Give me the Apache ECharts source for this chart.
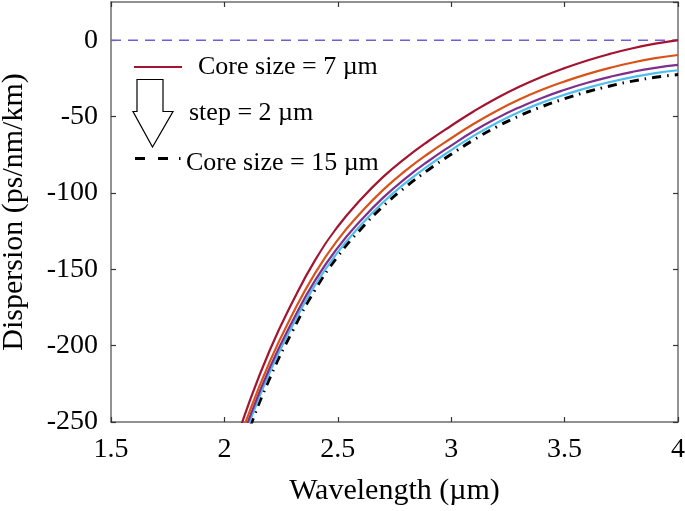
<!DOCTYPE html>
<html>
<head>
<meta charset="utf-8">
<script src="https://cdn.jsdelivr.net/npm/echarts@6/dist/echarts.min.js"></script>
<style>html,body{margin:0;padding:0;background:#fff}#c{width:685px;height:511px}</style>
</head>
<body>
<div id="c"></div>
<script>
// Wavelength samples (µm)
const wavelength = [2.05, 2.1, 2.2, 2.3, 2.4, 2.5, 2.6, 2.7, 2.8, 2.9, 3.0, 3.1, 3.2, 3.3, 3.4, 3.5, 3.6, 3.7, 3.8, 3.9, 4.0];
// Dispersion (ps/nm/km) per core size
const core7  = [-264, -241, -203, -171.5, -144, -122, -104.5, -89.5, -77, -66, -56, -46.5, -38, -30.5, -24, -18.3, -13.3, -9, -5.3, -2.3, 0];
const core9  = [-270, -247.5, -210.5, -179.5, -152.5, -130.7, -113.2, -98, -85.3, -74.2, -64.2, -54.7, -46.3, -38.9, -32.5, -27, -22.2, -18.1, -14.6, -11.8, -9.7];
const core11 = [-274, -251.5, -214.5, -184, -157.3, -135.8, -118.3, -103.1, -90.3, -79.1, -69, -59.5, -51.2, -44, -37.8, -32.5, -27.9, -24, -20.7, -18.1, -16.2];
const core13 = [-277, -254.5, -217.5, -187, -160.3, -138.8, -121.3, -106.1, -93.3, -82.1, -72, -62.5, -54.2, -47, -40.9, -35.7, -31.2, -27.4, -24.2, -21.6, -19.7];
const core15 = [-281, -258.5, -221.3, -190.5, -163.4, -141.5, -123.9, -108.7, -96, -84.8, -74.7, -65.2, -56.8, -49.6, -43.5, -38.3, -33.8, -30, -26.8, -24.3, -22.5];
const zeroLineX = [1.5, 4];
const zeroLineY = [0, 0];
const seriesNames = ['Core size = 7 µm', 'Core size = 9 µm', 'Core size = 11 µm', 'Core size = 13 µm', 'Core size = 15 µm'];
const legendTexts = ['Core size = 7 µm', 'step = 2 µm', 'Core size = 15 µm'];

const FONT = '"Liberation Serif", "Times New Roman", serif';
const AX = '#6e6e6e';
const pair = (xs, ys) => xs.map((x, i) => [x, ys[i]]);

const chart = echarts.init(document.getElementById('c'));
const baseAxis = {
  type: 'value',
  axisLine: { show: true, onZero: false, lineStyle: { color: AX, width: 1.5 } },
  axisTick: { show: true, inside: true, length: 5, lineStyle: { color: '#333', width: 1.2 } },
  splitLine: { show: false }
};
const lineSeries = (name, data, color, extra) => Object.assign({
  name, type: 'line', data, smooth: 0.5, showSymbol: false, symbol: 'none', clip: true,
  xAxisIndex: 0, yAxisIndex: 0,
  lineStyle: { color, width: 2.2 }, z: 3
}, extra || {});

chart.setOption({
  animation: false,
  backgroundColor: '#fff',
  grid: { left: 111, right: 7, top: 2, bottom: 89, outerBoundsMode: 'none', containLabel: false },
  xAxis: [
    Object.assign({}, baseAxis, {
      position: 'bottom', min: 1.5, max: 4, interval: 0.5,
      axisLabel: { color: '#000', fontFamily: FONT, fontSize: 28, margin: 14 },
      name: 'Wavelength (µm)', nameLocation: 'middle', nameGap: 54,
      nameTextStyle: { color: '#000', fontFamily: FONT, fontSize: 30 }
    }),
    Object.assign({}, baseAxis, {
      position: 'top', min: 1.5, max: 4, interval: 0.5, axisLabel: { show: false }
    })
  ],
  yAxis: [
    Object.assign({}, baseAxis, {
      position: 'left', min: -250, max: 25, interval: 50,
      axisLabel: { color: '#000', fontFamily: FONT, fontSize: 28, margin: 13, showMaxLabel: false },
      name: 'Dispersion (ps/nm/km)', nameLocation: 'middle', nameGap: 82, nameRotate: 90,
      nameTextStyle: { color: '#000', fontFamily: FONT, fontSize: 30 }
    }),
    Object.assign({}, baseAxis, {
      position: 'right', min: -250, max: 25, interval: 50, axisLabel: { show: false }
    })
  ],
  series: [
    lineSeries('zero', pair(zeroLineX, zeroLineY), '#6a5acd', { smooth: false, lineStyle: { color: '#6f5fd6', width: 1.6, type: [10, 7] }, z: 2 }),
    lineSeries(seriesNames[4], pair(wavelength, core15), '#000', { lineStyle: { color: '#000', width: 3, type: [9, 6, 1.5, 6] }, z: 3 }),
    lineSeries(seriesNames[3], pair(wavelength, core13), '#4dbeee'),
    lineSeries(seriesNames[2], pair(wavelength, core11), '#7e2f8e'),
    lineSeries(seriesNames[1], pair(wavelength, core9), '#d95319'),
    lineSeries(seriesNames[0], pair(wavelength, core7), '#a2142f')
  ],
  graphic: [
    { type: 'line', shape: { x1: 134, y1: 67, x2: 182, y2: 67 }, style: { stroke: '#a2142f', lineWidth: 2.2 } },
    { type: 'text', x: 198, y: 67, style: { text: legendTexts[0], font: '26px ' + FONT, fill: '#000', verticalAlign: 'middle' } },
    { type: 'polygon', shape: { points: [[137, 79.5], [163, 79.5], [163, 111.5], [173, 111.5], [152.5, 147], [133, 111.5], [137, 111.5]] },
      style: { fill: '#fff', stroke: '#000', lineWidth: 1.2 } },
    { type: 'text', x: 189, y: 113, style: { text: legendTexts[1], font: '26px ' + FONT, fill: '#000', verticalAlign: 'middle' } },
    { type: 'line', shape: { x1: 135, y1: 158.5, x2: 182, y2: 158.5 }, style: { stroke: '#000', lineWidth: 3, lineDash: [10, 13, 10, 11, 1.5, 40] } },
    { type: 'text', x: 186, y: 163, style: { text: legendTexts[2], font: '26px ' + FONT, fill: '#000', verticalAlign: 'middle' } }
  ]
});
</script>
</body>
</html>
